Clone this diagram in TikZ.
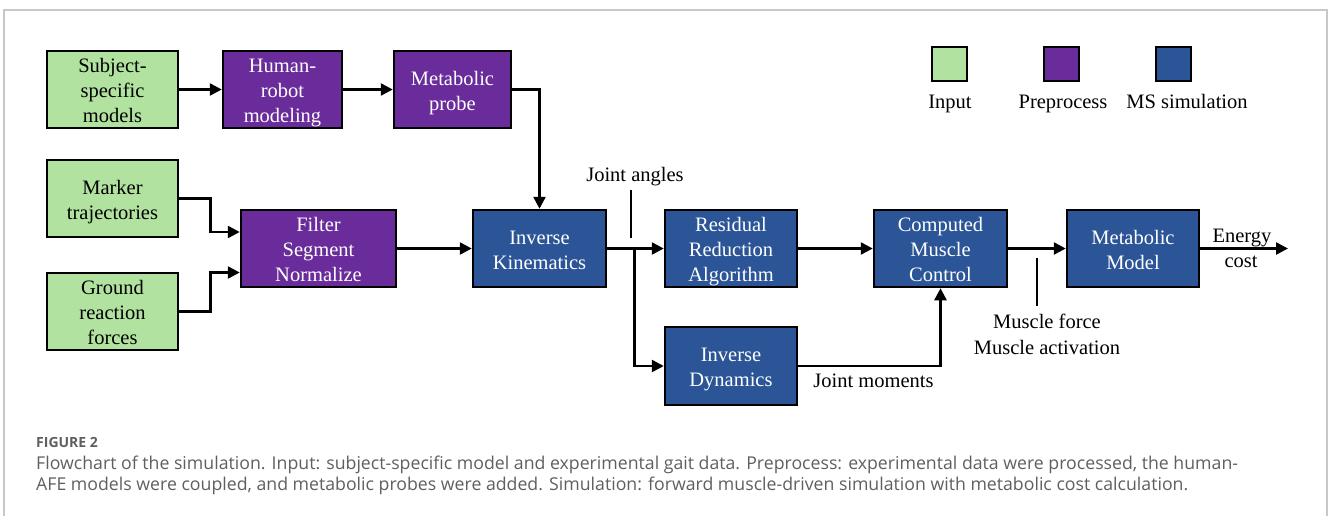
\documentclass[tikz,border=0pt]{standalone}
\usepackage{fontspec}
\setmainfont{Liberation Serif}
\newfontfamily\capfont{Open Sans}
\usetikzlibrary{arrows.meta,calc}
\definecolor{ingreen}{RGB}{178,226,160}
\definecolor{prepurple}{RGB}{106,44,154}
\definecolor{msblue}{RGB}{43,85,151}
\definecolor{capgray}{RGB}{95,95,95}
\definecolor{framegray}{RGB}{200,200,200}
\newcommand{\bt}[1]{\raisebox{-3pt}[\height][\depth]{\begin{tabular}{@{}c@{}}#1\end{tabular}}}
\begin{document}
\begin{tikzpicture}[x=1pt,y=-1pt,
  font=\fontsize{20.5}{25}\selectfont,
  box/.style={draw=black, line width=2.5pt, align=center, inner sep=0pt, minimum height=77pt},
  inbox/.style={box, fill=ingreen, text=black},
  prebox/.style={box, fill=prepurple, text=white},
  msbox/.style={box, fill=msblue, text=white},
  arr/.style={line width=2.5pt, -{Triangle[length=12pt,width=12pt]}},
  tick/.style={line width=1.8pt},
  lab/.style={inner sep=0pt, align=center, text height=14pt, text depth=5pt},
  legsq/.style={draw=black, line width=2pt, minimum width=35pt, minimum height=34pt, inner sep=0pt},
  capstyle/.style={inner sep=0pt, anchor=base west, text=capgray}
]
\useasboundingbox (0,0) rectangle (1328,515);
\draw[framegray, line width=1.5pt] (4,530) -- (4,10) -- (1327,10) -- (1327,530);

% input boxes
\node[inbox, minimum width=131pt] (subj) at (112.5,89.5) {\bt{Subject-\\specific\\models}};
\node[inbox, minimum width=131pt] (mark) at (112.5,198.5) {\bt{Marker\\trajectories}};
\node[inbox, minimum width=131pt] (grf) at (112.5,311.5) {\bt{Ground\\reaction\\forces}};
% preprocess
\node[prebox, minimum width=119pt] (hr) at (282.5,89.5) {\bt{Human-\\robot\\modeling}};
\node[prebox, minimum width=117pt] (mp) at (452.5,89.5) {\bt{Metabolic\\probe}};
\node[prebox, minimum width=155pt] (filt) at (318.5,248.5) {\bt{Filter\\Segment\\Normalize}};
% MS simulation
\node[msbox, minimum width=133pt] (ik) at (539.5,248.5) {\bt{Inverse\\Kinematics}};
\node[msbox, minimum width=132pt] (rra) at (731,248.5) {\bt{Residual\\Reduction\\Algorithm}};
\node[msbox, minimum width=132pt, minimum height=78pt] (id) at (731,366) {\bt{Inverse\\Dynamics}};
\node[msbox, minimum width=133pt] (cmc) at (940.5,248.5) {\bt{Computed\\Muscle\\Control}};
\node[msbox, minimum width=132pt] (mm) at (1133,248.5) {\bt{Metabolic\\Model}};

% connectors
\draw[arr] (subj) -- (hr);
\draw[arr] (hr) -- (mp);
\draw[arr] (mp.east) -| (ik.north);
\draw[arr] (mark.east) -- ++(31,0) |- ([yshift=16.5pt]filt.west);
\draw[arr] (grf.east) -- ++(31,0) |- ([yshift=-24pt]filt.west);
\draw[arr] (filt) -- (ik);
\draw[arr] (ik) -- (rra);
\draw[arr] ([xshift=27pt]ik.east) |- (id.west);
\draw[arr] (rra) -- (cmc);
\draw[arr] (id.east) -| (cmc.south);
\draw[arr] (cmc) -- (mm);
\coordinate (eend) at (1288,248.5);
\draw[arr] (mm.east) -- (eend);

% labels
\node[lab] (ja) at (635,177) {Joint angles};
\draw[tick] (631,190) -- (631,238);
\node[lab] (jm) at (873.5,383) {Joint moments};
\node[lab] (mf) at (1047,324) {Muscle force};
\node[lab] (ma) at (1047,350) {Muscle activation};
\draw[tick] (1037,258) -- (1037,306);
\node[lab] (en) at (1242,238) {Energy};
\node[lab] (co) at (1241,263) {cost};

% legend
\node[legsq, fill=ingreen] (lg1) at (949.5,64) {};
\node[legsq, fill=prepurple] (lg2) at (1061.5,64) {};
\node[legsq, fill=msblue] (lg3) at (1173.5,64) {};
\node[lab] (lt1) at (950,104) {Input};
\node[lab] (lt2) at (1063,104) {Preprocess};
\node[lab] (lt3) at (1187,104) {MS simulation};

% caption
\node[capstyle, font=\capfont\bfseries\fontsize{14}{16}\selectfont] (fig) at (36,447) {FIGURE 2};
\node[capstyle, font=\capfont\fontsize{17.7}{21}\selectfont] (cap1) at (36,469) {Flowchart of the simulation. Input: subject-specific model and experimental gait data. Preprocess: experimental data were processed, the human-};
\node[capstyle, font=\capfont\fontsize{17.7}{21}\selectfont] (cap2) at (36,490) {AFE models were coupled, and metabolic probes were added. Simulation: forward muscle-driven simulation with metabolic cost calculation.};
\end{tikzpicture}
\end{document}
